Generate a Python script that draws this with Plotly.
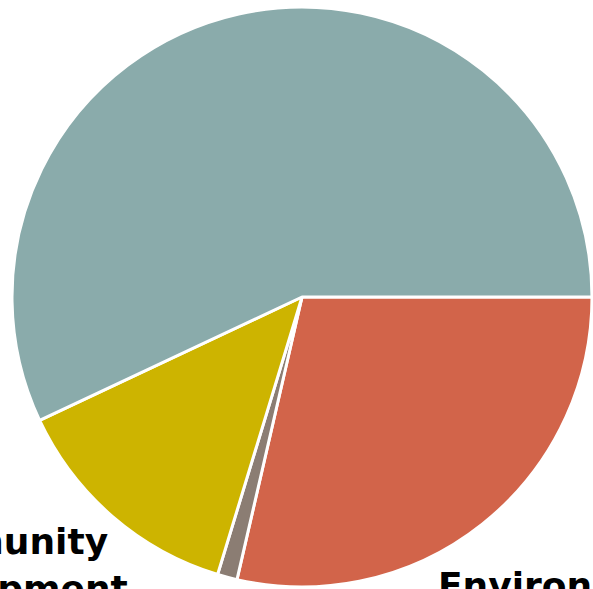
import plotly.graph_objects as go

labels = ["Environment", "Other", "Community Development", "Education"]
values = [28.6, 1.1, 13.3, 57.0]
colors = ["#D2644A", "#8B7D73", "#CDB400", "#8AABAB"]

fig = go.Figure(go.Pie(
    labels=labels,
    values=values,
    sort=False,
    direction="clockwise",
    rotation=90,
    marker=dict(colors=colors, line=dict(color="white", width=3)),
    textinfo="none",
    hoverinfo="label+percent",
    showlegend=False,
    automargin=False,
    domain=dict(x=[12/593, 592/593], y=[2/589, 582/589]),
))

lab_font = dict(family="DejaVu Sans", size=36, color="black")
fig.add_annotation(
    text="<b>Community<br>Development</b>",
    xref="paper", yref="paper", x=-0.012, y=0.040,
    xanchor="center", yanchor="middle", showarrow=False,
    align="center", font=lab_font,
)
fig.add_annotation(
    text="<b>Environment</b>",
    xref="paper", yref="paper", x=436/593, y=0.006,
    xanchor="left", yanchor="middle", showarrow=False,
    align="left", font=lab_font,
)
fig.update_layout(
    width=593, height=589,
    margin=dict(l=0, r=0, t=0, b=0),
    paper_bgcolor="white",
    plot_bgcolor="white",
)
fig.write_html("out.html")
